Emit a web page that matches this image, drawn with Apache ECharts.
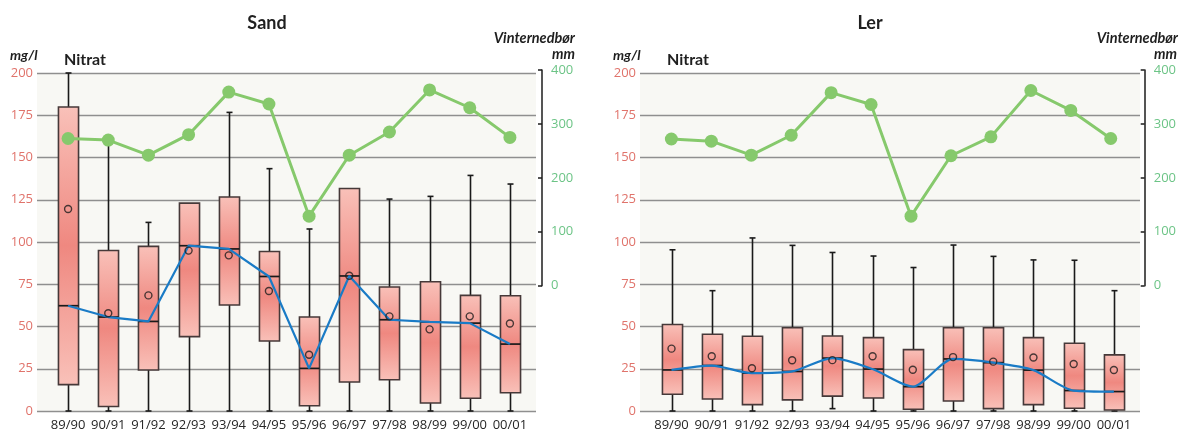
<!DOCTYPE html>
<html>
<head>
<meta charset="utf-8">
<script src="https://cdn.jsdelivr.net/npm/echarts@6/dist/echarts.min.js"></script>
<style>
  html, body { margin: 0; padding: 0; background: #ffffff; }
  #chart { width: 1179px; height: 434px; }
</style>
</head>
<body>
<div id="chart"></div>
<script>
// Winter seasons
const categories = ['89/90', '90/91', '91/92', '92/93', '93/94', '94/95', '95/96', '96/97', '97/98', '98/99', '99/00', '00/01'];

// Nitrate on sandy soil (mg/l): whisker low, Q1, median, Q3, whisker high, mean
const sandLow    = [0, 0, 0, 0, 0, 0, 0, 0, 0, 0, 0, 0];
const sandQ1     = [15.6, 2.7, 24.3, 44, 62.7, 41.4, 3.1, 17.2, 18.5, 4.7, 7.5, 10.8];
const sandMedian = [62.3, 55.6, 53, 97.8, 95.9, 79.6, 25.2, 79.9, 54, 52.7, 52, 39.6];
const sandQ3     = [179.9, 95, 97.4, 123, 126.6, 94.4, 55.6, 131.7, 73.4, 76.5, 68.4, 68.2];
const sandHigh   = [200, 158, 111.6, 123, 176.7, 143.4, 107.7, 131.7, 125.4, 127, 139.4, 134.3];
const sandMean   = [119.5, 57.8, 68.4, 94.9, 92.1, 71, 33.3, 80, 56, 48.3, 56, 51.8];
const sandPrecip = [273, 270, 242, 280, 359, 337, 129, 242, 285, 363, 330, 275];

// Nitrate on clay soil (mg/l)
const lerLow    = [0, 0, 0, 0, 1.4, 0, 0, 0, 0, 0, 0, 0];
const lerQ1     = [9.9, 7.1, 3.8, 6.6, 8.8, 7.7, 1, 5.9, 1.4, 3.8, 1.6, 0.6];
const lerMedian = [24.3, 26.9, 22.4, 23.4, 31.3, 24.8, 14.4, 30.8, 28.6, 24.2, 12.1, 11.5];
const lerQ3     = [51.2, 45.4, 44.2, 49.3, 44.4, 43.4, 36.3, 49.3, 49.3, 43.4, 40.1, 33.2];
const lerHigh   = [95.4, 71.2, 102.4, 98, 93.8, 91.7, 84.9, 98.2, 91.5, 89.4, 89.2, 71.2];
const lerMean   = [36.9, 32.4, 25.3, 30, 30.1, 32.4, 24.4, 31.9, 29.2, 31.7, 27.8, 24.3];
const lerPrecip = [272, 268, 242, 279, 358, 336, 129, 241, 276, 362, 325, 273];

// Axis ticks
const nitrateTicks = [0, 25, 50, 75, 100, 125, 150, 175, 200];
const precipTicks  = [0, 100, 200, 300, 400];

const chart = echarts.init(document.getElementById('chart'));

const LABEL_FONT = "'Open Sans', 'Liberation Sans', sans-serif";
const TITLE_FONT = "Lato, 'Open Sans', sans-serif";
const NITRATE_COLOR = '#e0736b';
const PRECIP_COLOR = '#6cc486';
const GRID_LINE = '#8f8f8f';

function boxRows(low, q1, med, q3, high) {
  return categories.map((c, i) => [i, low[i], q1[i], med[i], q3[i], high[i]]);
}

function renderBox(params, api) {
  const i = api.value(0);
  const lo = api.coord([i, api.value(1)]);
  const q1 = api.coord([i, api.value(2)]);
  const md = api.coord([i, api.value(3)]);
  const q3 = api.coord([i, api.value(4)]);
  const hi = api.coord([i, api.value(5)]);
  const w = api.size([1, 0])[0] * 0.5;
  const cx = Math.round(lo[0]) + 0.5;
  const cap = 3;
  const lineStyle = { stroke: '#1a1a1a', lineWidth: 1.6 };
  const children = [];
  // whiskers
  children.push({ type: 'line', shape: { x1: cx, y1: lo[1], x2: cx, y2: q1[1] }, style: lineStyle });
  children.push({ type: 'line', shape: { x1: cx - cap, y1: lo[1], x2: cx + cap, y2: lo[1] }, style: lineStyle });
  if (hi[1] < q3[1] - 0.5) {
    children.push({ type: 'line', shape: { x1: cx, y1: q3[1], x2: cx, y2: hi[1] }, style: lineStyle });
    children.push({ type: 'line', shape: { x1: cx - cap, y1: hi[1], x2: cx + cap, y2: hi[1] }, style: lineStyle });
  }
  // box
  children.push({
    type: 'rect',
    shape: { x: cx - w / 2, y: q3[1], width: w, height: q1[1] - q3[1] },
    style: {
      fill: new echarts.graphic.LinearGradient(0, 0, 0, 1, [
        { offset: 0, color: '#f9c1b9' },
        { offset: 0.5, color: '#ef8880' },
        { offset: 1, color: '#f9c1b9' }
      ]),
      stroke: '#463939',
      lineWidth: 1.6
    }
  });
  // median
  children.push({ type: 'line', shape: { x1: cx - w / 2, y1: md[1], x2: cx + w / 2, y2: md[1] }, style: { stroke: '#1a1a1a', lineWidth: 1.7 } });
  return { type: 'group', children };
}

// One panel = background grid (gridlines, nitrate labels), data grid (boxes), precipitation grid
function panel(base, bgLeft, bgWidth, dataLeft, dataWidth, precipOffset, d) {
  const grids = [
    { left: bgLeft, top: 73, width: bgWidth, height: 338, show: true, backgroundColor: '#f8f8f4', borderWidth: 0 },
    { left: dataLeft, top: 73, width: dataWidth, height: 338 },
    { left: dataLeft, top: 70, width: dataWidth, height: 215.7 }
  ];
  const xAxes = [
    { gridIndex: base, type: 'value', min: 0, max: 1, show: false },
    {
      gridIndex: base + 1, type: 'category', data: categories, boundaryGap: true,
      axisLine: { show: false }, axisTick: { show: false },
      axisLabel: { color: '#262626', fontSize: 13, fontFamily: LABEL_FONT, margin: 8, interval: 0 }
    },
    { gridIndex: base + 2, type: 'category', data: categories, boundaryGap: true, show: false }
  ];
  const yAxes = [
    {
      gridIndex: base, type: 'value', min: nitrateTicks[0], max: nitrateTicks[nitrateTicks.length - 1],
      interval: nitrateTicks[1] - nitrateTicks[0],
      axisLine: { show: false }, axisTick: { show: false },
      splitLine: { lineStyle: { color: GRID_LINE, width: 1.4 } },
      axisLabel: { color: NITRATE_COLOR, fontSize: 13, fontFamily: LABEL_FONT, margin: 4 }
    },
    { gridIndex: base + 1, type: 'value', min: 0, max: 200, show: false },
    {
      gridIndex: base + 2, type: 'value', position: 'right', offset: precipOffset,
      min: precipTicks[0], max: precipTicks[precipTicks.length - 1], interval: precipTicks[1] - precipTicks[0],
      axisLine: { show: true, lineStyle: { color: '#1d1d1d', width: 1.5 } },
      axisTick: { show: true, inside: true, length: 4, lineStyle: { color: '#1d1d1d', width: 1.5 } },
      splitLine: { show: false },
      axisLabel: { color: PRECIP_COLOR, fontSize: 13, fontFamily: LABEL_FONT, margin: 9 }
    }
  ];
  const series = [
    {
      type: 'custom', xAxisIndex: base + 1, yAxisIndex: base + 1, z: 2,
      renderItem: renderBox,
      encode: { x: 0, y: [1, 2, 3, 4, 5] },
      data: boxRows(d.low, d.q1, d.med, d.q3, d.high),
      silent: true
    },
    {
      type: 'line', xAxisIndex: base + 1, yAxisIndex: base + 1, z: 3,
      data: d.med, symbol: 'none', smooth: d.smooth,
      lineStyle: { color: '#1a7bc6', width: 2.2 }
    },
    {
      type: 'scatter', xAxisIndex: base + 1, yAxisIndex: base + 1, z: 4,
      data: d.mean, symbol: 'circle', symbolSize: 7,
      itemStyle: { color: 'rgba(0,0,0,0)', borderColor: '#1d1d1d', borderWidth: 1.4 }
    },
    {
      type: 'line', xAxisIndex: base + 2, yAxisIndex: base + 2, z: 5,
      data: d.precip, symbol: 'circle', symbolSize: 13,
      lineStyle: { color: '#86c96c', width: 3 },
      itemStyle: { color: '#86c96c' }
    }
  ];
  return { grids, xAxes, yAxes, series };
}

const left = panel(0, 37, 499, 48, 482, 12, {
  low: sandLow, q1: sandQ1, med: sandMedian, q3: sandQ3, high: sandHigh, mean: sandMean, precip: sandPrecip, smooth: false
});
const right = panel(3, 640, 500, 651.4, 482.6, 14, {
  low: lerLow, q1: lerQ1, med: lerMedian, q3: lerQ3, high: lerHigh, mean: lerMean, precip: lerPrecip, smooth: 0.25
});

function txt(x, y, text, opts) {
  return {
    type: 'text', x, y,
    style: Object.assign({
      text, fill: '#1f1f1f', fontFamily: TITLE_FONT, fontWeight: 'bold',
      textVerticalAlign: 'middle', textAlign: 'left'
    }, opts)
  };
}

chart.setOption({
  animation: false,
  grid: [...left.grids, ...right.grids],
  xAxis: [...left.xAxes, ...right.xAxes],
  yAxis: [...left.yAxes, ...right.yAxes],
  series: [...left.series, ...right.series],
  graphic: [
    txt(267, 23, 'Sand', { fontSize: 18, textAlign: 'center' }),
    txt(870, 23, 'Ler', { fontSize: 18, textAlign: 'center' }),
    txt(10, 55, 'mg/l', { fontSize: 14, fontStyle: 'italic' }),
    txt(613, 55, 'mg/l', { fontSize: 14, fontStyle: 'italic' }),
    txt(64, 60, 'Nitrat', { fontSize: 16 }),
    txt(667, 60, 'Nitrat', { fontSize: 16 }),
    txt(575, 38, 'Vinternedbør', { fontSize: 14.5, fontStyle: 'italic', textAlign: 'right' }),
    txt(575, 54, 'mm', { fontSize: 14.5, fontStyle: 'italic', textAlign: 'right' }),
    txt(1178, 38, 'Vinternedbør', { fontSize: 14.5, fontStyle: 'italic', textAlign: 'right' }),
    txt(1177, 54, 'mm', { fontSize: 14.5, fontStyle: 'italic', textAlign: 'right' })
  ]
});
</script>
</body>
</html>
